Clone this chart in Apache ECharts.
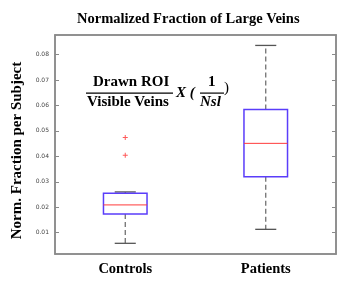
<!DOCTYPE html>
<html>
<head>
<meta charset="utf-8">
<script src="https://cdn.jsdelivr.net/npm/echarts@6/dist/echarts.min.js"></script>
<style>
  html, body { margin: 0; padding: 0; background: #fff; }
  #chart { width: 359px; height: 291px; }
</style>
</head>
<body>
<div id="chart"></div>
<script>
// box stats
const categories = ['Controls', 'Patients'];
const lowerWhisker = [0.0058, 0.0113];
const q1 = [0.0173, 0.0320];
const median = [0.0209, 0.0451];
const q3 = [0.0255, 0.0584];
const upperWhisker = [0.0260, 0.0836];
const controlOutliers = [0.0474, 0.0404];
const yTicks = [0.01, 0.02, 0.03, 0.04, 0.05, 0.06, 0.07, 0.08];

const boxData = categories.map((c, i) => [i, lowerWhisker[i], q1[i], median[i], q3[i], upperWhisker[i]]);
const outlierData = controlOutliers.map(v => [0, v]);

const serif = '"Liberation Serif", "Times New Roman", serif';
const boxColor = '#5a3dfa';
const medColor = '#ff3a3a';
const plus = 'path://M4,0 L6,0 L6,4 L10,4 L10,6 L6,6 L6,10 L4,10 L4,6 L0,6 L0,4 L4,4 Z';

function renderBox(params, api) {
  const x = api.value(0);
  const lo = api.coord([x, api.value(1)]);
  const b1 = api.coord([x, api.value(2)]);
  const md = api.coord([x, api.value(3)]);
  const b3 = api.coord([x, api.value(4)]);
  const hi = api.coord([x, api.value(5)]);
  const band = api.size([1, 0])[0];
  const w = band * 0.31;
  const cap = band * 0.15;
  const cx = lo[0];
  const dash = { stroke: '#666', lineWidth: 1.2, lineDash: [5, 3] };
  const capStyle = { stroke: '#555', lineWidth: 1.3 };
  return {
    type: 'group',
    children: [
      { type: 'line', shape: { x1: cx, y1: b3[1], x2: cx, y2: hi[1] }, style: dash },
      { type: 'line', shape: { x1: cx, y1: b1[1], x2: cx, y2: lo[1] }, style: dash },
      { type: 'line', shape: { x1: cx - cap / 2, y1: hi[1], x2: cx + cap / 2, y2: hi[1] }, style: capStyle },
      { type: 'line', shape: { x1: cx - cap / 2, y1: lo[1], x2: cx + cap / 2, y2: lo[1] }, style: capStyle },
      { type: 'rect', shape: { x: cx - w / 2, y: b3[1], width: w, height: b1[1] - b3[1] },
        style: { fill: '#fff', stroke: boxColor, lineWidth: 1.5 } },
      { type: 'line', shape: { x1: cx - w / 2, y1: md[1], x2: cx + w / 2, y2: md[1] },
        style: { stroke: medColor, lineWidth: 1 } }
    ]
  };
}

const chart = echarts.init(document.getElementById('chart'), null, { renderer: 'canvas' });
chart.setOption({
  animation: false,
  title: {
    text: 'Normalized Fraction of Large Veins',
    left: 72, top: 7,
    textStyle: { fontFamily: serif, fontSize: 14.5, fontWeight: 'bold', color: '#000' }
  },
  grid: { left: 55, right: 23, top: 35, bottom: 37, show: true, borderColor: '#8a8a8a', borderWidth: 1.5 },
  xAxis: [
    {
      type: 'category', data: categories, position: 'bottom',
      axisLine: { lineStyle: { color: '#8a8a8a', width: 1.5 } },
      axisTick: { inside: true, alignWithLabel: true, length: 4, lineStyle: { color: '#8a8a8a' } },
      axisLabel: { margin: 8, fontFamily: serif, fontSize: 14.5, fontWeight: 'bold', color: '#000' }
    },
    {
      type: 'category', data: categories, position: 'top',
      axisLine: { lineStyle: { color: '#8a8a8a', width: 1.5 } },
      axisTick: { inside: true, alignWithLabel: true, length: 4, lineStyle: { color: '#8a8a8a' } },
      axisLabel: { show: false }
    }
  ],
  yAxis: [
    {
      type: 'value', min: 0.0016, max: 0.0877, position: 'left',
      name: 'Norm. Fraction per Subject', nameLocation: 'middle', nameRotate: 90, nameGap: 28,
      nameTextStyle: { fontFamily: serif, fontSize: 15, fontWeight: 'bold', color: '#000', padding: [0, 12, 0, 0] },
      splitLine: { show: false },
      axisLine: { show: true, lineStyle: { color: '#8a8a8a', width: 1.5 } },
      axisTick: { show: true, inside: true, length: 4, customValues: yTicks, lineStyle: { color: '#8a8a8a' } },
      axisLabel: { customValues: yTicks, margin: 6, fontSize: 6, color: '#444', fontFamily: 'DejaVu Sans',
        formatter: v => v.toFixed(2) }
    },
    {
      type: 'value', min: 0.0016, max: 0.0877, position: 'right',
      splitLine: { show: false },
      axisLine: { show: true, lineStyle: { color: '#8a8a8a', width: 1.5 } },
      axisTick: { show: true, inside: true, length: 4, customValues: yTicks, lineStyle: { color: '#8a8a8a' } },
      axisLabel: { show: false }
    }
  ],
  series: [
    {
      type: 'custom', renderItem: renderBox, data: boxData,
      encode: { x: 0, y: [1, 2, 3, 4, 5] }, z: 2
    },
    {
      type: 'scatter', data: outlierData, symbol: plus, symbolSize: 5,
      itemStyle: { color: '#ff3030' }, z: 3
    }
  ],
  graphic: [
    { type: 'text', left: 93, top: 75, style: { text: 'Drawn ROI', font: 'bold 15px ' + serif, fill: '#000' } },
    { type: 'rect', shape: { x: 86, y: 92.5, width: 87, height: 1.2 }, style: { fill: '#000' } },
    { type: 'text', left: 87, top: 95, style: { text: 'Visible Veins', font: 'bold 15px ' + serif, fill: '#000' } },
    { type: 'text', left: 176, top: 86, style: { text: 'X (', font: 'bold italic 15px ' + serif, fill: '#000' } },
    { type: 'text', left: 208, top: 75, style: { text: '1', font: 'bold 15px ' + serif, fill: '#000' } },
    { type: 'rect', shape: { x: 200, y: 92.5, width: 24, height: 1.2 }, style: { fill: '#000' } },
    { type: 'text', left: 200, top: 95, style: { text: 'Nsl', font: 'bold italic 15px ' + serif, fill: '#000' } },
    { type: 'text', left: 224, top: 81, style: { text: ')', font: '15px ' + serif, fill: '#000' } }
  ]
});
</script>
</body>
</html>
